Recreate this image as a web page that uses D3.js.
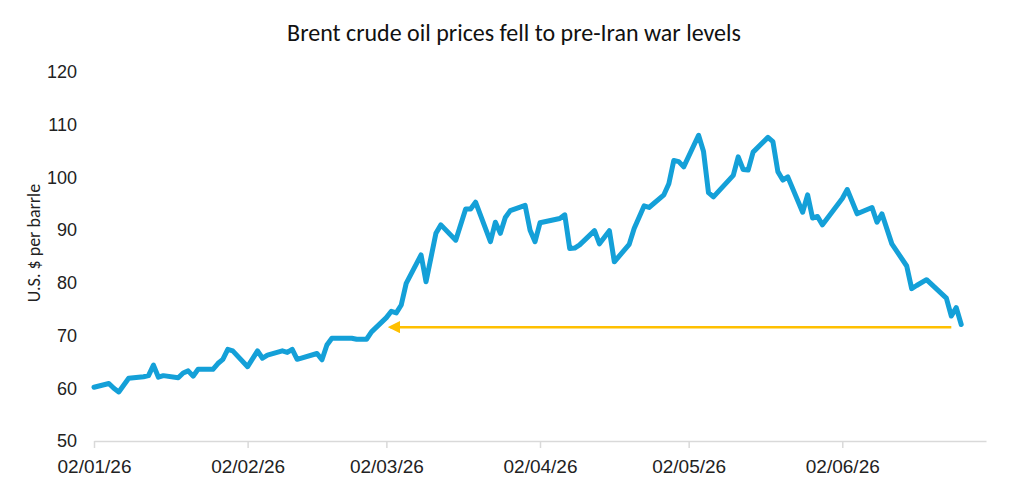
<!DOCTYPE html>
<html lang="en">
  <head>
    <meta charset="UTF-8" />
    <title>Brent crude</title>
    <style>
      body { margin: 0; background: #fff; }
      svg { font-family: Carlito, Calibri, Lato, sans-serif; }
      .line { fill: none; stroke: #14a0d8; stroke-width: 5; stroke-linejoin: round; stroke-linecap: round; }
      .x-axis .domain, .x-axis .tick line { stroke: #d9d9d9; stroke-width: 1.5; }
      .x-axis text { fill: #222; font-size: 19px; }
      .y-axis text { fill: #222; font-size: 18px; }
      .y-axis .domain, .y-axis .tick line { display: none; }
    </style>
  </head>
  <body>
    <div id="chart"></div>
  </body>
  <script src="https://cdnjs.cloudflare.com/ajax/libs/d3/7.8.5/d3.min.js"></script>
  <script>
    // daily Brent close
    let dates = [
      "2026-01-02","2026-01-05","2026-01-06","2026-01-07","2026-01-09","2026-01-12","2026-01-13","2026-01-14","2026-01-15","2026-01-16",
      "2026-01-19","2026-01-20","2026-01-21","2026-01-22","2026-01-23","2026-01-26","2026-01-27","2026-01-28","2026-01-29","2026-01-30",
      "2026-02-02","2026-02-04","2026-02-05","2026-02-06","2026-02-09","2026-02-10","2026-02-11","2026-02-12","2026-02-16","2026-02-17",
      "2026-02-18","2026-02-19","2026-02-23","2026-02-24","2026-02-26","2026-02-27","2026-03-02","2026-03-03","2026-03-04","2026-03-05",
      "2026-03-06","2026-03-09","2026-03-10","2026-03-12","2026-03-13","2026-03-16","2026-03-18","2026-03-19","2026-03-20","2026-03-23",
      "2026-03-24","2026-03-25","2026-03-26","2026-03-27","2026-03-30","2026-03-31","2026-04-01","2026-04-02","2026-04-06","2026-04-07",
      "2026-04-08","2026-04-09","2026-04-10","2026-04-13","2026-04-14","2026-04-16","2026-04-17","2026-04-20","2026-04-21","2026-04-23",
      "2026-04-24","2026-04-27","2026-04-28","2026-04-29","2026-04-30","2026-05-01","2026-05-04","2026-05-05","2026-05-06","2026-05-07",
      "2026-05-11","2026-05-12","2026-05-13","2026-05-14","2026-05-15","2026-05-18","2026-05-19","2026-05-20","2026-05-21","2026-05-22",
      "2026-05-25","2026-05-26","2026-05-27","2026-05-28","2026-05-29","2026-06-02","2026-06-03","2026-06-05","2026-06-08","2026-06-09",
      "2026-06-10","2026-06-12","2026-06-15","2026-06-16","2026-06-17","2026-06-19","2026-06-23","2026-06-24","2026-06-25","2026-06-26"
    ];
    let prices = [
      60.2, 60.9, 60.0, 59.3, 61.9, 62.2, 62.4, 64.4, 62.1, 62.4,
      62.0, 62.9, 63.3, 62.3, 63.6, 63.6, 64.7, 65.5, 67.4, 67.1,
      64.1, 67.1, 65.7, 66.3, 67.1, 66.8, 67.4, 65.5, 66.6, 65.4,
      68.2, 69.5, 69.5, 69.3, 69.3, 70.7, 73.4, 74.6, 74.3, 75.8,
      79.9, 85.3, 80.2, 89.4, 91.0, 88.1, 94.0, 94.0, 95.3, 87.8,
      91.5, 89.4, 92.4, 93.7, 94.7, 90.0, 87.8, 91.4, 92.2, 92.9,
      86.5, 86.6, 87.2, 89.9, 87.4, 89.9, 84.0, 87.3, 90.3, 94.6,
      94.3, 96.7, 98.8, 103.2, 103.0, 102.0, 108.0, 104.9, 97.1, 96.3,
      100.4, 103.9, 101.5, 101.4, 104.8, 107.6, 106.8, 101.1, 99.5, 100.1,
      93.4, 96.7, 92.3, 92.6, 91.0, 96.0, 97.7, 93.1, 94.3, 91.5,
      93.1, 87.4, 83.2, 78.9, 79.5, 80.6, 77.1, 73.7, 75.3, 72.1
    ];
    let xTicks = ["2026-01-02", "2026-02-02", "2026-03-02", "2026-04-02", "2026-05-02", "2026-06-02"];
    let yTicks = [50, 60, 70, 80, 90, 100, 110, 120];
    // arrow back to the pre-war level
    let arrowStart = "2026-06-24", arrowEnd = "2026-03-02", arrowLevel = 71.6;

    let width = 1024, height = 494;
    let parse = d3.utcParse("%Y-%m-%d");
    let data = dates.map((d, i) => ({ date: parse(d), value: prices[i] }));

    let x = d3.scaleUtc()
      .domain([parse("2026-01-02"), parse("2026-07-01")])
      .range([94, 986]);
    let y = d3.scaleLinear().domain([50, 120]).range([441, 72]);

    let svg = d3.select("#chart").append("svg")
      .attr("width", width)
      .attr("height", height);

    svg.append("text")
      .attr("x", 514).attr("y", 41)
      .attr("text-anchor", "middle")
      .style("font-size", "24px").style("fill", "#111")
      .text("Brent crude oil prices fell to pre-Iran war levels");

    svg.append("g").attr("class", "x-axis")
      .attr("transform", "translate(0,441)")
      .call(d3.axisBottom(x).tickValues(xTicks.map(parse)).tickFormat(d3.utcFormat("%d/%m/%y")).tickSize(7).tickSizeOuter(0).tickPadding(12));

    svg.append("g").attr("class", "y-axis")
      .attr("transform", "translate(79,0)")
      .call(d3.axisLeft(y).tickValues(yTicks).tickSize(0).tickPadding(2));

    svg.append("text")
      .attr("transform", "translate(40,243) rotate(-90)")
      .attr("text-anchor", "middle")
      .style("font-size", "18px").style("fill", "#222")
      .text("U.S. $ per barrle");

    let line = d3.line().x(d => x(d.date)).y(d => y(d.value));
    svg.append("path").attr("class", "line").attr("d", line(data));

    svg.append("defs").append("marker")
      .attr("id", "head")
      .attr("viewBox", "0 0 10 10")
      .attr("refX", 8).attr("refY", 5)
      .attr("markerWidth", 5).attr("markerHeight", 5)
      .attr("orient", "auto")
      .append("path").attr("d", "M0,0 L10,5 L0,10 Z").attr("fill", "#ffc000");

    svg.append("line")
      .attr("x1", x(parse(arrowStart))).attr("x2", x(parse(arrowEnd)) + 4)
      .attr("y1", y(arrowLevel)).attr("y2", y(arrowLevel))
      .attr("stroke", "#ffc000").attr("stroke-width", 2.5)
      .attr("marker-end", "url(#head)");
  </script>
</html>
